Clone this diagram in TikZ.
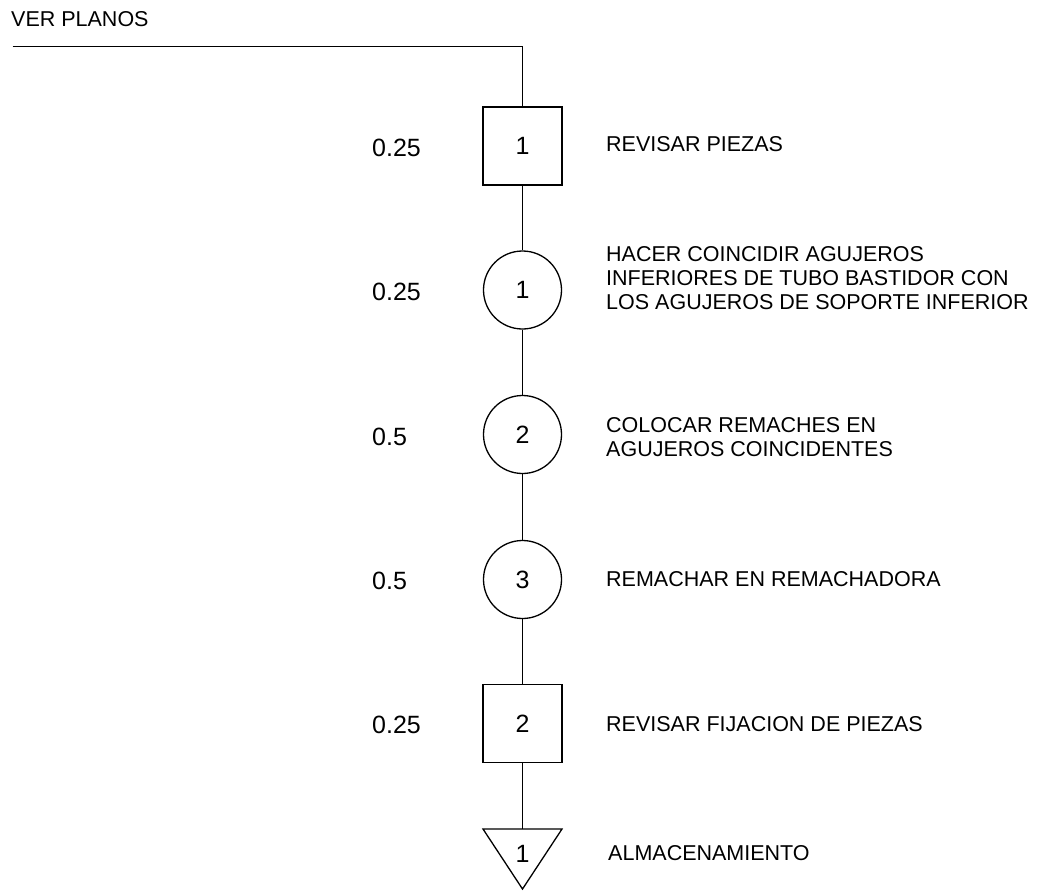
\documentclass[tikz,border=0pt]{standalone}
\usepackage{fontspec}
\setmainfont{Liberation Sans}
\begin{document}
\begin{tikzpicture}[x=1pt,y=-1pt,
  conn/.style={line width=1.5pt},
  shapeline/.style={draw=black,line width=1.3pt},
  opbox/.style={shapeline,rectangle,minimum width=79pt,minimum height=78pt,inner sep=0pt,font=\fontsize{25}{28}\selectfont},
  opcirc/.style={shapeline,circle,minimum size=78pt,inner sep=0pt,font=\fontsize{25}{28}\selectfont},
  num/.style={anchor=west,inner sep=0pt,font=\fontsize{25}{28}\selectfont},
  desc/.style={anchor=west,inner sep=0pt,align=left,font=\fontsize{21.5}{24}\selectfont}]
\useasboundingbox (0,0) rectangle (1042,891);

% process symbols along the main column
\node[opbox]  (b1) at (522.5,146)   {1};
\node[opcirc] (c1) at (522.5,290)   {1};
\node[opcirc] (c2) at (522.5,434.5) {2};
\node[opcirc] (c3) at (522.5,579.5) {3};
\node[opbox]  (b2) at (522.5,723.5) {2};

% storage triangle
\coordinate (tl) at (483,829);
\coordinate (tr) at (562,829);
\coordinate (tt) at (522.5,829);
\coordinate (tb) at (522.5,889);
\draw[shapeline] (tl) -- (tr) -- (tb) -- cycle;
\node[inner sep=0pt,font=\fontsize{25}{28}\selectfont] (s1) at (522.5,854) {1};

% incoming material line
\coordinate (vp) at (12.5,46.7);
\node[desc] (vptext) at (11,19) {VER PLANOS};
\draw[conn] (vp) -| (b1.north);

% connectors
\draw[conn] (b1.south) -- (c1.north);
\draw[conn] (c1.south) -- (c2.north);
\draw[conn] (c2.south) -- (c3.north);
\draw[conn] (c3.south) -- (b2.north);
\draw[conn] (b2.south) -- (tt);

% times
\node[num] (t1) at (372,148) {0.25};
\node[num] (t2) at (372,292) {0.25};
\node[num] (t3) at (372,437) {0.5};
\node[num] (t4) at (372,581) {0.5};
\node[num] (t5) at (372,725) {0.25};

% descriptions
\node[desc] (d1) at (606,144) {REVISAR PIEZAS};
\node[desc] (d2) at (606,278.5) {HACER COINCIDIR AGUJEROS\\INFERIORES DE TUBO BASTIDOR CON\\LOS AGUJEROS DE SOPORTE INFERIOR};
\node[desc] (d3) at (606,437.5) {COLOCAR REMACHES EN\\AGUJEROS COINCIDENTES};
\node[desc] (d4) at (606,579) {REMACHAR EN REMACHADORA};
\node[desc] (d5) at (606,724) {REVISAR FIJACION DE PIEZAS};
\node[desc] (d6) at (608,853) {ALMACENAMIENTO};
\end{tikzpicture}
\end{document}
